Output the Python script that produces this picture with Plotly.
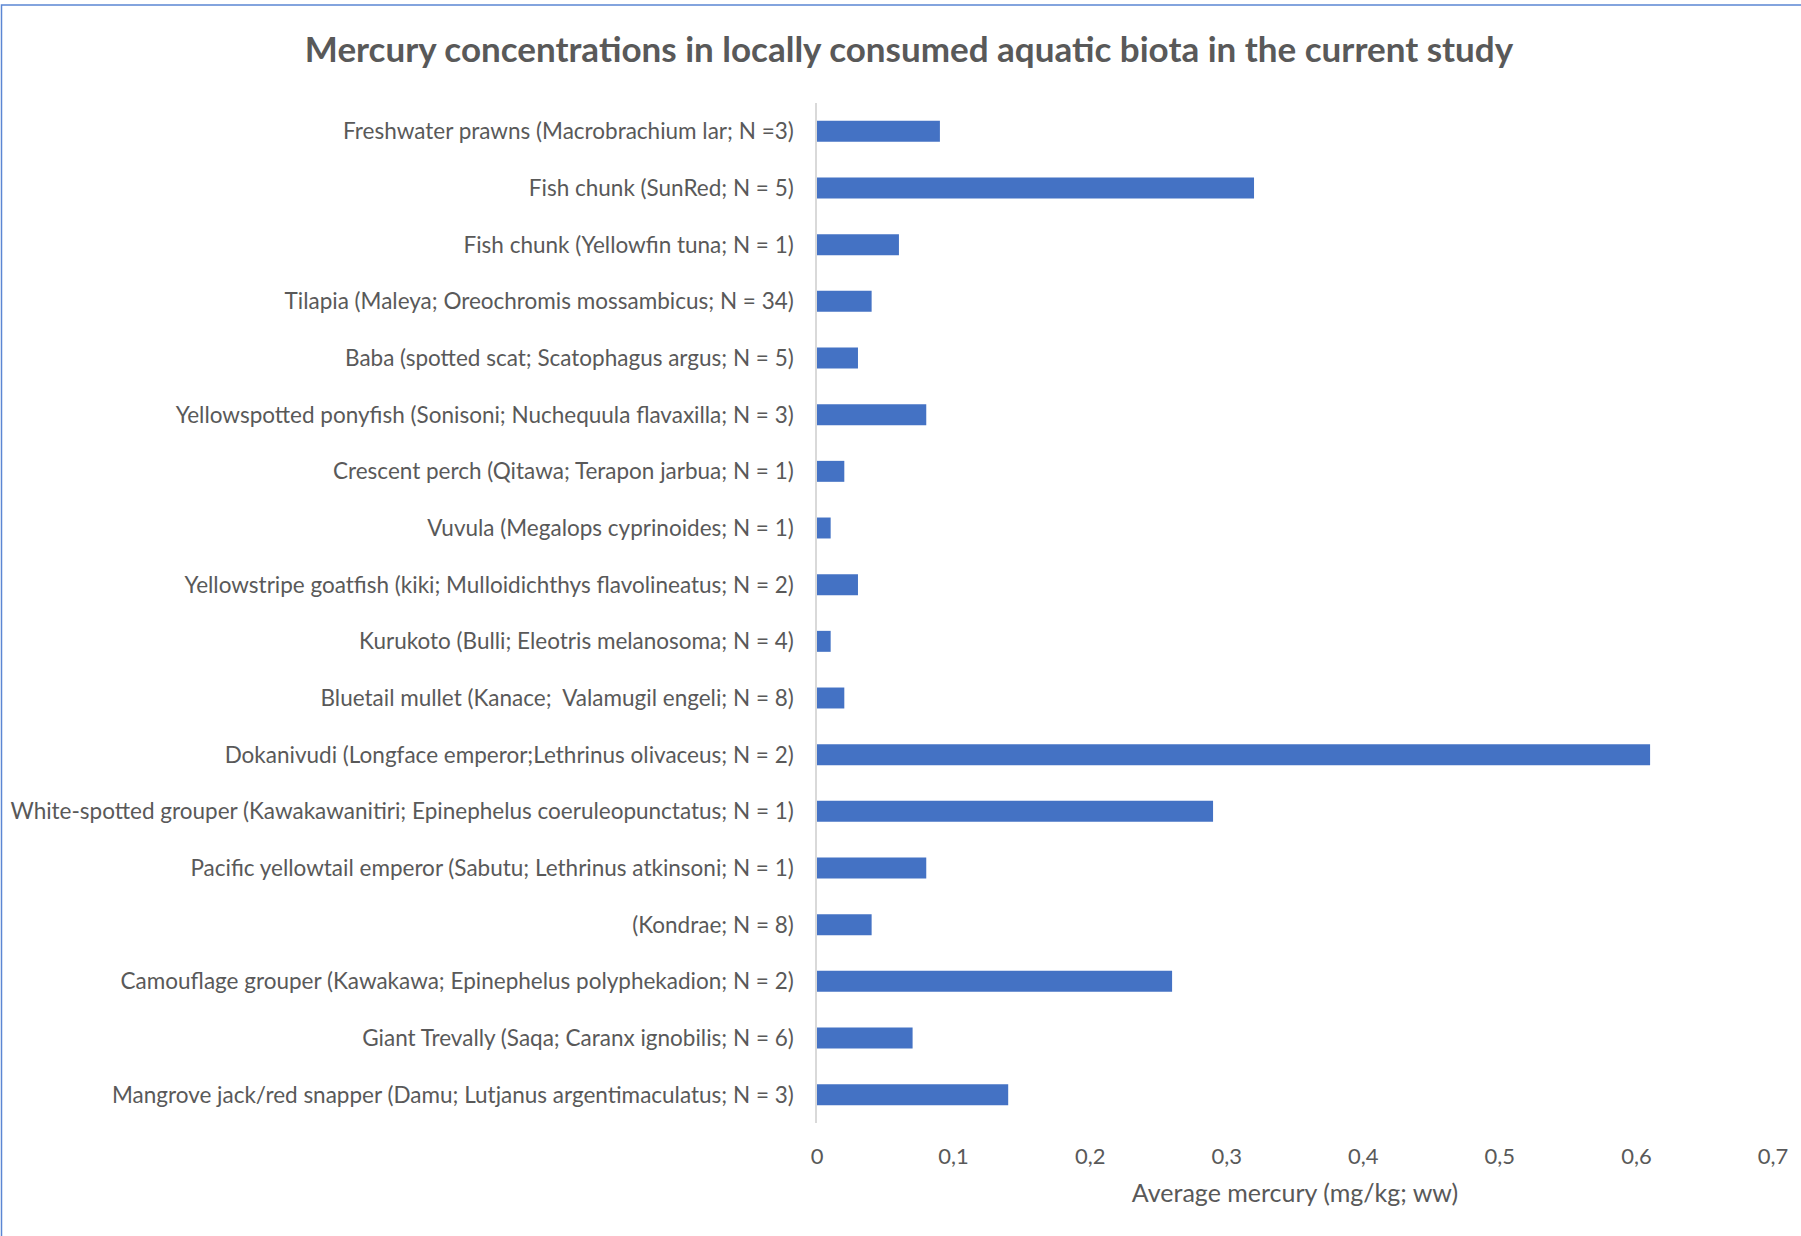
import plotly.graph_objects as go

categories = [
    "Freshwater prawns (Macrobrachium lar; N =3)",
    "Fish chunk (SunRed; N = 5)",
    "Fish chunk (Yellowfin tuna; N = 1)",
    "Tilapia (Maleya; Oreochromis mossambicus; N = 34)",
    "Baba (spotted scat; Scatophagus argus; N = 5)",
    "Yellowspotted ponyfish (Sonisoni; Nuchequula flavaxilla; N = 3)",
    "Crescent perch (Qitawa; Terapon jarbua; N = 1)",
    "Vuvula (Megalops cyprinoides; N = 1)",
    "Yellowstripe goatfish (kiki; Mulloidichthys flavolineatus; N = 2)",
    "Kurukoto (Bulli; Eleotris melanosoma; N = 4)",
    "Bluetail mullet (Kanace;  Valamugil engeli; N = 8)",
    "Dokanivudi (Longface emperor;Lethrinus olivaceus; N = 2)",
    "White-spotted grouper (Kawakawanitiri; Epinephelus coeruleopunctatus; N = 1)",
    "Pacific yellowtail emperor (Sabutu; Lethrinus atkinsoni; N = 1)",
    "(Kondrae; N = 8)",
    "Camouflage grouper (Kawakawa; Epinephelus polyphekadion; N = 2)",
    "Giant Trevally (Saqa; Caranx ignobilis; N = 6)",
    "Mangrove jack/red snapper (Damu; Lutjanus argentimaculatus; N = 3)",
]
mercury = [0.09, 0.32, 0.06, 0.04, 0.03, 0.08, 0.02, 0.01, 0.03, 0.01,
           0.02, 0.61, 0.29, 0.08, 0.04, 0.26, 0.07, 0.14]
tick_vals = [0, 0.1, 0.2, 0.3, 0.4, 0.5, 0.6, 0.7]
tick_text = ["0", "0,1", "0,2", "0,3", "0,4", "0,5", "0,6", "0,7"]

W, H = 1801, 1236
ML, MR, MT, MB = 817, 28, 103, 113
PW, PH = W - ML - MR, H - MT - MB

FONT = "Lato"
GREY = "#595959"

fig = go.Figure()
fig.add_trace(go.Bar(
    x=mercury, y=categories, orientation="h",
    marker=dict(color="#4472C4", line=dict(width=0)),
    width=0.37,
    hoverinfo="x+y",
))

# chart-area border (top & left visible, right/bottom cropped)
fig.add_shape(type="rect", xref="paper", yref="paper",
              x0=(1.5 - ML) / PW, x1=(W + 20 - ML) / PW,
              y0=-(MB + 20) / PH, y1=1 + (MT - 5) / PH,
              line=dict(color="#5B86D3", width=1.5), layer="above")

fig.update_layout(
    width=W, height=H,
    margin=dict(l=ML, r=MR, t=MT, b=MB, pad=0, autoexpand=False),
    paper_bgcolor="white", plot_bgcolor="white",
    showlegend=False,
    title=dict(
        text="<b>Mercury concentrations in locally consumed aquatic biota in the current study</b>",
        font=dict(family=FONT, size=35, color=GREY),
        x=909 / W, xanchor="center", xref="container",
        y=1 - 50 / H, yanchor="middle", yref="container",
    ),
    xaxis=dict(
        range=[0, 0.7], tickvals=tick_vals, ticktext=tick_text,
        showgrid=False, zeroline=False, showline=False, ticks="",
        automargin=False,
        tickfont=dict(family=FONT, size=22, color=GREY),
        ticklabelstandoff=18,
        title=dict(text="Average mercury (mg/kg; ww)",
                   font=dict(family=FONT, size=25, color=GREY), standoff=16),
    ),
    yaxis=dict(
        autorange="reversed", type="category",
        showgrid=False, zeroline=False, automargin=False,
        showline=True, linecolor="#D9D9D9", linewidth=1.5,
        ticks="", ticklabelstandoff=17,
        tickfont=dict(family=FONT, size=22.5, color=GREY),
    ),
    bargap=0.63,
)

fig.write_html("out.html", config={"displayModeBar": False},
               post_script="document.body.style.margin='0';")
